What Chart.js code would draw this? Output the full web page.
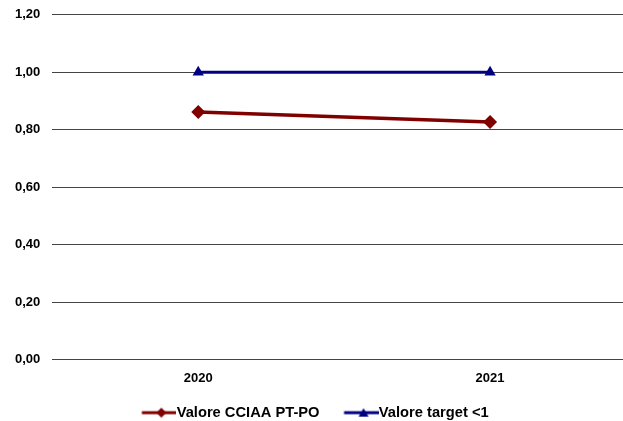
<html>
<head>
<meta charset="utf-8">
<script src="https://cdn.jsdelivr.net/npm/chart.js"></script>
<style>
  body { margin:0; background:#fff; overflow:hidden; width:623px; height:421px; position:relative; }
  #wrap { width:643px; height:435px; position:absolute; left:0; top:-5px; }
</style>
</head>
<body>
<div id="wrap"><canvas id="myChart"></canvas></div>
<script>
var years = ['2020', '2021'];
var valoreCciaa = [0.862, 0.827];
var valoreTarget = [1.00, 1.00];
var yTicks = [0, 0.2, 0.4, 0.6, 0.8, 1.0, 1.2];

// legend icon: short line with the marker on it (blank part on the left = spacing)
function legendIcon(color, shape) {
    var c = document.createElement('canvas');
    c.width = 58; c.height = 12;
    var g = c.getContext('2d');
    g.strokeStyle = color; g.lineWidth = 3;
    g.beginPath(); g.moveTo(23.5, 6); g.lineTo(58, 6); g.stroke();
    g.fillStyle = color;
    g.beginPath();
    var m = 43;
    if (shape == 'diamond') {
        g.moveTo(m, 1); g.lineTo(m + 5, 6); g.lineTo(m, 11); g.lineTo(m - 5, 6);
    } else {
        g.moveTo(m, 1.5); g.lineTo(m + 5, 10); g.lineTo(m - 5, 10);
    }
    g.closePath(); g.fill();
    return c;
}
var redIcon = legendIcon('#800000', 'diamond');
var blueIcon = legendIcon('#000080', 'triangle');

// nudge the legend to the left like in the original
var legendShift = {
    id: 'legendShift',
    afterLayout: function(ch) {
        ch.legend.left -= 16;
        ch.legend.right -= 16;
    }
};

var ctx = document.getElementById('myChart').getContext('2d');
var chart = new Chart(ctx, {
    type: 'line',
    data: {
        labels: years,
        datasets: [{
            label: 'Valore CCIAA PT-PO',
            data: valoreCciaa,
            borderColor: '#800000',
            backgroundColor: '#800000',
            borderWidth: 3.5,
            pointStyle: 'rectRot',
            pointRadius: 7,
            pointBorderWidth: 0,
            pointHoverRadius: 7,
            legendIcon: redIcon
        }, {
            label: 'Valore target <1',
            data: valoreTarget,
            borderColor: '#000080',
            backgroundColor: '#000080',
            borderWidth: 3,
            pointStyle: 'triangle',
            pointRadius: 6.5,
            pointBorderWidth: 0,
            pointHoverRadius: 6.5,
            legendIcon: blueIcon
        }]
    },
    plugins: [legendShift],
    options: {
        responsive: true,
        maintainAspectRatio: false,
        animation: false,
        layout: { padding: { top: 2, left: 3, right: 0, bottom: 0 } },
        plugins: {
            tooltip: { enabled: false },
            legend: {
                position: 'bottom',
                labels: {
                    usePointStyle: true,
                    pointStyleWidth: 44,
                    color: '#000',
                    padding: 8,
                    font: { family: 'Liberation Sans', size: 14.7, weight: 'bold' },
                    generateLabels: function(ch) {
                        return ch.data.datasets.map(function(ds, i) {
                            return { text: ds.label, pointStyle: ds.legendIcon, fillStyle: ds.borderColor,
                                     strokeStyle: ds.borderColor, lineWidth: 0, datasetIndex: i, fontColor: '#000' };
                        });
                    }
                }
            }
        },
        scales: {
            x: {
                offset: true,
                grid: { display: false, drawTicks: false },
                border: { display: false },
                ticks: { color: '#000', padding: 11, font: { family: 'Liberation Sans', size: 13, weight: 'bold' } }
            },
            y: {
                min: 0, max: 1.2,
                afterBuildTicks: function(ax) { ax.ticks = yTicks.map(function(v) { return { value: v }; }); },
                grid: { color: '#444', lineWidth: 1, drawTicks: false },
                border: { display: false },
                ticks: {
                    color: '#000', padding: 12,
                    font: { family: 'Liberation Sans', size: 13, weight: 'bold' },
                    callback: function(v) { return v.toFixed(2).replace('.', ','); }
                }
            }
        }
    }
});
</script>
</body>
</html>
